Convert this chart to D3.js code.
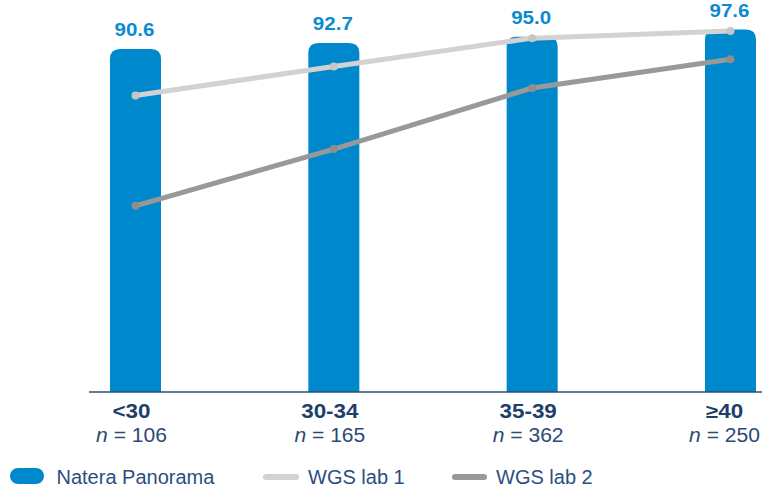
<!DOCTYPE html>
<html>
<head>
<meta charset="utf-8">
<script src="https://cdn.jsdelivr.net/npm/d3@7"></script>
<style>
  html, body { margin: 0; padding: 0; background: #fff; }
  svg { display: block; font-family: "Liberation Sans", Arial, Helvetica, sans-serif; }
</style>
</head>
<body>
<svg id="chart" width="762" height="491"></svg>
<script>
// ---- data ----
const categories = ["<30", "30-34", "35-39", "\u226540"];
const sampleSizes = ["106", "165", "362", "250"];
const panorama = [90.6, 92.7, 95.0, 97.6];
const wgsLab1 = [73.7, 84.2, 94.5, 97.1];
const wgsLab2 = [33.6, 54.2, 76.4, 86.8];
const seriesNames = ["Natera Panorama", "WGS lab 1", "WGS lab 2"];

// ---- style ----
const blue = "#0088cc";
const light = "#d2d2d2";
const dark = "#999999";
const navy = "#1f3f6b";

const svg = d3.select("#chart");

const x = d3.scalePoint().domain(categories).range([135.5, 730.5]);
const y = d3.scaleLinear().domain([-34, 100]).range([392, 23]);

const barW = 51, rad = 10;

function barPath(cx, v) {
  const x0 = cx - barW / 2, x1 = cx + barW / 2, yt = y(v), yb = y.range()[0];
  return `M${x0},${yb}V${yt + rad}Q${x0},${yt} ${x0 + rad},${yt}H${x1 - rad}Q${x1},${yt} ${x1},${yt + rad}V${yb}Z`;
}

// bars
svg.append("g").selectAll("path").data(panorama).join("path")
  .attr("d", (d, i) => barPath(x(categories[i]), d))
  .attr("fill", blue);

// value labels
svg.append("g").selectAll("text").data(panorama).join("text")
  .attr("transform", (d, i) => `translate(${x(categories[i]) - 1},${y(d) - 13}) scale(1.14,1)`)
  .attr("text-anchor", "middle")
  .attr("font-size", 18)
  .attr("font-weight", "bold")
  .attr("fill", "#0a8ad0")
  .text(d => d.toFixed(1));

// axis line
svg.append("line")
  .attr("x1", 89).attr("x2", 762)
  .attr("y1", 392).attr("y2", 392)
  .attr("stroke", "#2b4c70").attr("stroke-width", 1.6);

// lines
const line = d3.line().x((d, i) => x(categories[i])).y(d => y(d));
[[wgsLab1, light, "#c6c6c6"], [wgsLab2, dark, "#8e8e8e"]].forEach(([vals, col, dotCol]) => {
  svg.append("path").datum(vals)
    .attr("d", line)
    .attr("fill", "none")
    .attr("stroke", col)
    .attr("stroke-width", 5)
    .attr("stroke-linejoin", "round");
  svg.append("g").selectAll("circle").data(vals).join("circle")
    .attr("cx", (d, i) => x(categories[i]))
    .attr("cy", d => y(d))
    .attr("r", 4)
    .attr("fill", dotCol);
});

// category labels
const catG = svg.append("g");
categories.forEach((c, i) => {
  const cx = x(c) - 4 - (i === 3 ? 2 : 0);
  catG.append("text")
    .attr("transform", `translate(${cx},418) scale(1.15,1)`)
    .attr("text-anchor", "middle")
    .attr("font-size", 19.5)
    .attr("font-weight", "bold")
    .attr("fill", navy)
    .text(c);
  const t = catG.append("text")
    .attr("transform", `translate(${cx},442) scale(1.08,1)`)
    .attr("text-anchor", "middle")
    .attr("font-size", 19.5)
    .attr("fill", "#2b4a74");
  t.append("tspan").attr("font-style", "italic").text("n");
  t.append("tspan").text(" = " + sampleSizes[i]);
});

// legend
const lg = svg.append("g");
lg.append("rect").attr("x", 10).attr("y", 468).attr("width", 34).attr("height", 16)
  .attr("rx", 8).attr("fill", blue);
lg.append("line").attr("x1", 266).attr("x2", 296).attr("y1", 477).attr("y2", 477)
  .attr("stroke", light).attr("stroke-width", 6).attr("stroke-linecap", "round");
lg.append("line").attr("x1", 455).attr("x2", 484).attr("y1", 477).attr("y2", 477)
  .attr("stroke", dark).attr("stroke-width", 6).attr("stroke-linecap", "round");
const legX = [56.5, 308, 496];
seriesNames.forEach((s, i) => {
  lg.append("text")
    .attr("x", legX[i]).attr("y", 483.5)
    .attr("font-size", 20)
    .attr("fill", "#2a4f7f")
    .text(s);
});
</script>
</body>
</html>
